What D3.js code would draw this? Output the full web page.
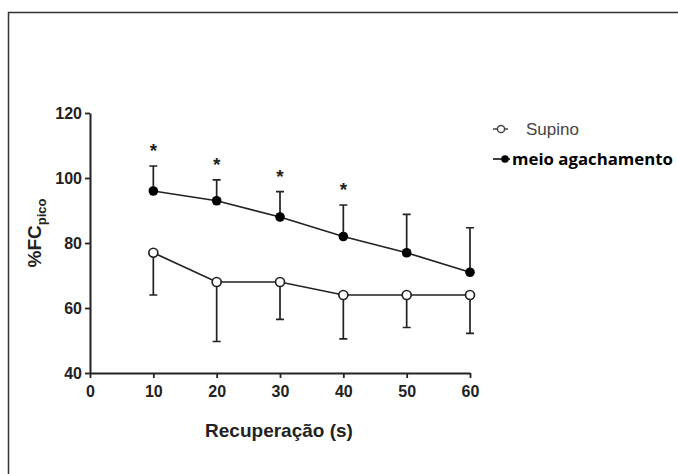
<!DOCTYPE html>
<html>
<head>
<meta charset="utf-8">
<script src="https://cdn.jsdelivr.net/npm/d3@7"></script>
<style>
  body { margin: 0; background: #fff; }
  svg { display: block; }
</style>
</head>
<body>
<div id="chart"></div>
<script>
// data
const times = [10, 20, 30, 40, 50, 60];
const supinoMean = [77, 68, 68, 64, 64, 64];
const supinoLow = [64, 49.7, 56.5, 50.5, 54, 52.2];   // lower SD bar end
const meioMean = [96, 93, 88, 82, 77, 71];
const meioHigh = [103.7, 99.4, 95.8, 91.7, 88.8, 84.7]; // upper SD bar end
const starred = [10, 20, 30, 40];
const xTicks = [0, 10, 20, 30, 40, 50, 60];
const yTicks = [40, 60, 80, 100, 120];

const W = 678, H = 474;
const svg = d3.select("#chart").append("svg")
    .attr("width", W)
    .attr("height", H);

// frame (top and left edges visible)
svg.append("path")
    .attr("d", `M8.5,${H} V12.5 H${W}`)
    .attr("fill", "none")
    .attr("stroke", "#333")
    .attr("stroke-width", 1.5);

const x = d3.scaleLinear().domain([0, 60]).range([90, 470]);
const y = d3.scaleLinear().domain([40, 120]).range([373, 113]);

const ink = "#222";
const font = "Liberation Sans, Arial, sans-serif";

const xAxis = svg.append("g")
    .attr("transform", `translate(0,${y(40)})`)
    .call(d3.axisBottom(x).tickValues(xTicks).tickSize(5).tickPadding(8).tickSizeOuter(0));
const yAxis = svg.append("g")
    .attr("transform", `translate(${x(0)},0)`)
    .call(d3.axisLeft(y).tickValues(yTicks).tickSize(5).tickPadding(3).tickSizeOuter(0));

[xAxis, yAxis].forEach(a => {
    a.select(".domain").attr("stroke", ink).attr("stroke-width", 2);
    a.selectAll(".tick line").attr("stroke", ink).attr("stroke-width", 1.8);
    a.selectAll("text")
        .attr("fill", ink)
        .style("font-family", font)
        .style("font-weight", "bold")
        .style("font-size", "16px");
});

// axis titles
svg.append("text")
    .attr("x", 279)
    .attr("y", 437)
    .attr("text-anchor", "middle")
    .attr("fill", ink)
    .style("font-family", font)
    .style("font-weight", "bold")
    .style("font-size", "19px")
    .text("Recuperação (s)");

const yTitle = svg.append("text")
    .attr("transform", "translate(41,233) rotate(-90)")
    .attr("text-anchor", "middle")
    .attr("fill", ink)
    .style("font-family", font)
    .style("font-weight", "bold")
    .style("font-size", "19px");
yTitle.append("tspan").text("%FC");
yTitle.append("tspan").attr("dy", 5).style("font-size", "13px").text("pico");

// error bars
const cap = 4;
const sup = times.map((t, i) => ({ t, m: supinoMean[i], e: supinoLow[i] }));
const mei = times.map((t, i) => ({ t, m: meioMean[i], e: meioHigh[i] }));

function errBars(data) {
    const g = svg.append("g").attr("stroke", ink).attr("stroke-width", 1.7).attr("fill", "none");
    g.selectAll("path").data(data).enter().append("path")
        .attr("d", d => `M${x(d.t)},${y(d.m)} V${y(d.e)} M${x(d.t) - cap},${y(d.e)} H${x(d.t) + cap}`);
}
errBars(sup);
errBars(mei);

const line = d3.line().x(d => x(d.t)).y(d => y(d.m));
[sup, mei].forEach(data => {
    svg.append("path")
        .datum(data)
        .attr("d", line)
        .attr("fill", "none")
        .attr("stroke", ink)
        .attr("stroke-width", 1.7);
});

svg.append("g").selectAll("circle").data(sup).enter().append("circle")
    .attr("cx", d => x(d.t)).attr("cy", d => y(d.m)).attr("r", 4.5)
    .attr("fill", "#fff").attr("stroke", ink).attr("stroke-width", 1.7);
svg.append("g").selectAll("circle").data(mei).enter().append("circle")
    .attr("cx", d => x(d.t)).attr("cy", d => y(d.m)).attr("r", 4.8)
    .attr("fill", "#000");

// significance marks above upper bars
svg.append("g").selectAll("text").data(mei.filter(d => starred.includes(d.t))).enter().append("text")
    .attr("x", d => x(d.t))
    .attr("y", d => y(d.e) - 9)
    .attr("text-anchor", "middle")
    .attr("fill", ink)
    .style("font-family", font)
    .style("font-weight", "bold")
    .style("font-size", "19px")
    .text("*");

// legend
const lg = svg.append("g");
lg.append("line").attr("x1", 493).attr("x2", 508).attr("y1", 129).attr("y2", 129)
    .attr("stroke", "#444").attr("stroke-width", 1.5);
lg.append("circle").attr("cx", 501).attr("cy", 129).attr("r", 3.6)
    .attr("fill", "#fff").attr("stroke", "#444").attr("stroke-width", 1.5);
lg.append("text").attr("x", 526).attr("y", 135)
    .attr("fill", "#444")
    .style("font-family", font)
    .style("font-size", "17px")
    .text("Supino");

lg.append("line").attr("x1", 493).attr("x2", 510).attr("y1", 159).attr("y2", 159)
    .attr("stroke", "#000").attr("stroke-width", 1.5);
lg.append("circle").attr("cx", 505).attr("cy", 159).attr("r", 3.8).attr("fill", "#000");
lg.append("text").attr("x", 512).attr("y", 165)
    .attr("fill", "#000")
    .style("font-family", "Open Sans, sans-serif")
    .style("font-weight", "bold")
    .style("font-size", "16.8px")
    .text("meio agachamento");
</script>
</body>
</html>
